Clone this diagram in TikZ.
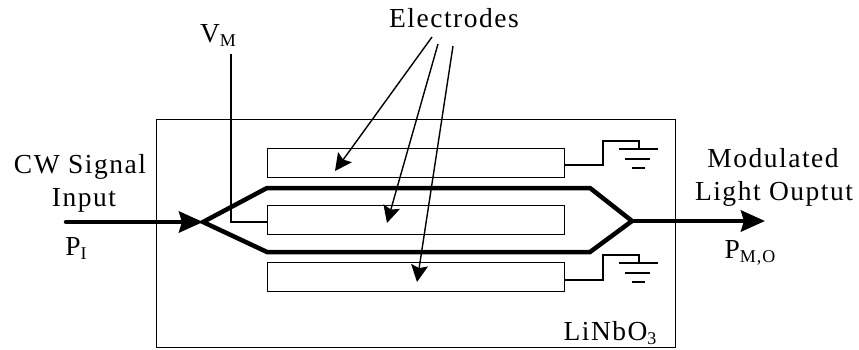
\documentclass[tikz,border=0pt]{standalone}
\usepackage{fontspec}
\setmainfont[LetterSpace=5.5]{Liberation Serif}
\usetikzlibrary{arrows.meta}
\tikzset{
  x=1pt,y=-1pt,
  thinl/.style={draw=black,line width=1.4pt},
  guide/.style={draw=black,line width=4.5pt,line join=miter},
  thickarrow/.style={draw=black,line width=4.5pt,-{Stealth[length=24pt,width=21pt,inset=3pt]}},
  leader/.style={draw=black,line width=1.4pt,-{Stealth[length=17pt,width=17pt,inset=3pt]}},
  lab/.style={inner sep=0pt,font=\fontsize{27.5}{30}\selectfont,align=center},
  elec/.style={thinl,rectangle,minimum width=297pt,minimum height=29pt,inner sep=0pt,anchor=north west},
  gnd/.style={draw=black,line width=1.4pt}
}
\newcommand{\subt}[1]{\raisebox{-4pt}{\fontsize{18}{18}\selectfont #1}}
\begin{document}
\begin{tikzpicture}
\useasboundingbox (0,0) rectangle (859,350);
\node[thinl,rectangle,minimum width=519pt,minimum height=228pt,inner sep=0pt,anchor=north west] (chip) at (156,119) {};
\node[elec] (top) at (267,148) {};
\node[elec] (mid) at (267,205) {};
\node[elec] (bot) at (267,262) {};
% coordinates
\coordinate (split) at (203,222);
\coordinate (join) at (632,221);
\coordinate (inS) at (66,222);
\coordinate (outE) at (765,221);
\coordinate (vmTop) at (231,54);
\coordinate (ua) at (267,188);
\coordinate (ub) at (590,188);
\coordinate (la) at (267,252);
\coordinate (lb) at (590,252);
% V_M
\draw[thinl] (vmTop) -- (231,222) -- (267,222);
% waveguides
\draw[guide] (split) -- (ua) -- (ub) -- (join) -- (lb) -- (la) -- cycle;
\draw[thickarrow,line cap=round] (inS) -- (split);
\draw[thickarrow] (join) -- (outE);
% grounds
\coordinate (g1) at (639,149);
\coordinate (g2) at (639,263);
\draw[gnd] (564,165) -- (603,165) -- (603,141) -- (639,141) -- (g1);
\draw[gnd] (619,149) -- (658,149) (625,159) -- (650,159) (632,168) -- (645,168);
\draw[gnd] (564,280) -- (603,280) -- (603,255) -- (639,255) -- (g2);
\draw[gnd] (619,263) -- (658,263) (625,273) -- (650,273) (632,282) -- (645,282);
% labels
\node[lab,anchor=base] (elab) at (454,28) {Electrodes};
\node[lab,anchor=base] (vm) at (218,43) {V\subt{M}};
\node[lab,anchor=base] (cw) at (80,173) {CW Signal};
\node[lab,anchor=base] (inp) at (84,206) {Input};
\node[lab,anchor=base] (pi) at (76,255) {P\subt{I}};
\node[lab,anchor=base] (mod) at (773,167) {Modulated};
\node[lab,anchor=base] (light) at (774,200) {Light Ouptut};
\node[lab,anchor=base] (pmo) at (750,258) {P\subt{M,O}};
\node[lab,anchor=base] (lin) at (610,340) {LiNbO\subt{3}};
% leaders
\coordinate (l1) at (432,37);
\coordinate (l2) at (438,44);
\coordinate (l3) at (453,46);
\coordinate (t1) at (335,171);
\coordinate (t2) at (387,223);
\coordinate (t3) at (417,282);
\draw[leader] (l1) -- (t1);
\draw[leader] (l2) -- (t2);
\draw[leader] (l3) -- (t3);
\end{tikzpicture}
\end{document}
